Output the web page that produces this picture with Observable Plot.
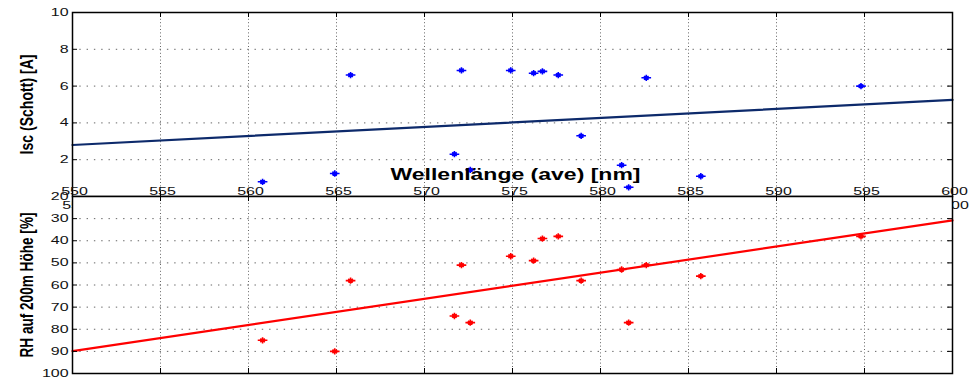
<!DOCTYPE html>
<html><head><meta charset="utf-8">
<script src="https://cdn.jsdelivr.net/npm/d3@7"></script>
<script src="https://cdn.jsdelivr.net/npm/@observablehq/plot@0.6"></script>
<style>
html,body{margin:0;padding:0;background:#fff;}
#chart{position:relative;width:971px;height:380px;overflow:hidden;background:#fff;}
#chart svg{position:absolute;left:0;}
</style></head><body><div id="chart"></div>
<script>
// ---- data ----
const wavelength = [560.8, 564.9, 565.8, 571.7, 572.1, 572.6, 574.9, 576.2, 576.7, 577.6, 578.9, 581.2, 581.6, 582.6, 585.7, 594.8];
const isc = [0.8, 1.25, 6.6, 2.3, 6.85, 1.45, 6.85, 6.7, 6.8, 6.6, 3.3, 1.7, 0.5, 6.45, 1.1, 6.0];
const rh = [85, 90, 58, 74, 51, 77, 47, 49, 39, 38, 58, 53, 77, 51, 56, 38];
const fitX = [550, 600];
const iscFit = [2.8, 5.25];
const rhFit = [89.9, 30.8];
const xTicks = [550, 555, 560, 565, 570, 575, 580, 585, 590, 595, 600];
const xGrid = [555, 560, 565, 570, 575, 580, 585, 590, 595];
const iscTicks = [0, 2, 4, 6, 8, 10];
const iscLabels = [2, 4, 6, 8, 10];
const iscGrid = [2, 4, 6, 8];
const rhTicks = [20, 30, 40, 50, 60, 70, 80, 90, 100];
const rhGrid = [30, 40, 50, 60, 70, 80, 90];
const hiddenTicks = [550, 600];
const xLabel = "Wellenlänge (ave) [nm]";
const iscLabel = "Isc (Schott) [A]";
const rhLabel = "RH auf 200m Höhe [%]";

const W = 971, ML = 72, MR = 19;
const FONT = "Liberation Sans, Arial, Helvetica, sans-serif";
const TL = 5; // tick length px

const star = {
  draw(ctx, size) {
    const r = Math.sqrt(size / Math.PI);
    const a = 1.15 * r, b = 0.75 * r, c = 0.55 * r, d = 0.42 * r;
    ctx.moveTo(-a, 0); ctx.lineTo(a, 0);
    ctx.moveTo(0, -b); ctx.lineTo(0, b);
    ctx.moveTo(-c, -d); ctx.lineTo(c, d);
    ctx.moveTo(-c, d); ctx.lineTo(c, -d);
  }
};

const pts = wavelength.map((w, i) => ({w, isc: isc[i], rh: rh[i]}));
const fit = fitX.map((x, i) => ({x, isc: iscFit[i], rh: rhFit[i]}));

function tickMarks(xt, yt, innerH, innerW) {
  return [
    Plot.ruleX(xt, {x: d => d, insetTop: innerH - TL, stroke: "black", strokeWidth: 1}),
    Plot.ruleX(xt, {x: d => d, insetBottom: innerH - TL, stroke: "black", strokeWidth: 1}),
    Plot.ruleY(yt, {y: d => d, insetRight: innerW - TL, stroke: "black", strokeWidth: 1}),
    Plot.ruleY(yt, {y: d => d, insetLeft: innerW - TL, stroke: "black", strokeWidth: 1})
  ];
}

// ---- top plot ----
const topH = 200, topMT = 12, topMB = 4;
const topInnerH = topH - topMT - topMB, innerW = W - ML - MR;
const topPlot = Plot.plot({
  width: W, height: topH, marginLeft: ML, marginRight: MR, marginTop: topMT, marginBottom: topMB,
  style: {fontFamily: FONT, background: "transparent", overflow: "visible"},
  x: {domain: [550, 600], axis: null},
  y: {domain: [0, 10], axis: null},
  marks: [
    Plot.ruleX(xGrid, {x: d => d, stroke: "#666", strokeWidth: 1, strokeDasharray: "1,2.4"}),
    Plot.ruleY(iscGrid, {y: d => d, stroke: "#666", strokeWidth: 1, strokeDasharray: "1.4,5.9"}),
    Plot.line(fit, {x: "x", y: "isc", stroke: "#0d2a6b", strokeWidth: 2.2}),
    Plot.dot(pts, {x: "w", y: "isc", symbol: star, r: 4.2, stroke: "#0000ff", fill: "none", strokeWidth: 1.6}),
    Plot.text([xLabel], {frameAnchor: "bottom", text: d => d, dx: 3, dy: -17, textAnchor: "middle", lineAnchor: "bottom", fontWeight: "bold", fontSize: 16.5, fill: "black"}),
    Plot.frame({stroke: "black", strokeWidth: 1.5}),
    ...tickMarks(xTicks, iscTicks, topInnerH, innerW),
    Plot.text(xTicks, {x: d => d, y: () => 0, text: d => String(d), dx: 2, dy: -2, lineAnchor: "bottom", fontSize: 11, fill: "#111"}),
    Plot.text(iscLabels, {x: () => 550, y: d => d, text: d => String(d), dx: -4, textAnchor: "end", lineAnchor: "middle", fontSize: 11, fill: "#111"}),
    Plot.text([iscLabel], {frameAnchor: "left", text: d => d, rotate: -90, dx: -45, textAnchor: "middle", lineAnchor: "middle", fontWeight: "bold", fontSize: 18, fill: "black"})
  ]
});

// ---- bottom plot ----
const botH = 190, botMT = 6, botMB = 7;
const botInnerH = botH - botMT - botMB;
const bottomPlot = Plot.plot({
  width: W, height: botH, marginLeft: ML, marginRight: MR, marginTop: botMT, marginBottom: botMB,
  style: {fontFamily: FONT, background: "transparent", overflow: "visible"},
  x: {domain: [550, 600], axis: null},
  y: {domain: [20, 100], reverse: true, axis: null},
  marks: [
    Plot.text(hiddenTicks, {x: d => d, y: () => 20, text: d => String(d), dx: 3, dy: 5, lineAnchor: "top", fontSize: 11, fill: "#111"}),
    Plot.frame({fill: "white"}),
    Plot.ruleX(xGrid, {x: d => d, stroke: "#666", strokeWidth: 1, strokeDasharray: "1,2.4"}),
    Plot.ruleY(rhGrid, {y: d => d, stroke: "#666", strokeWidth: 1, strokeDasharray: "1.4,5.9"}),
    Plot.line(fit, {x: "x", y: "rh", stroke: "#ff0000", strokeWidth: 2.2}),
    Plot.dot(pts, {x: "w", y: "rh", symbol: star, r: 4.2, stroke: "#ff0000", fill: "none", strokeWidth: 1.6}),
    Plot.frame({stroke: "black", strokeWidth: 1.5}),
    ...tickMarks(xTicks, rhTicks, botInnerH, innerW),
    Plot.text(rhTicks, {x: () => 550, y: d => d, text: d => String(d), dx: -4, textAnchor: "end", lineAnchor: "middle", fontSize: 11, fill: "#111"}),
    Plot.text([rhLabel], {frameAnchor: "left", text: d => d, rotate: -90, dx: -45, textAnchor: "middle", lineAnchor: "middle", fontWeight: "bold", fontSize: 18, fill: "black"})
  ]
});

const chart = document.getElementById("chart");
topPlot.style.top = "0px";
bottomPlot.style.top = (topMT + topInnerH - botMT) + "px";
chart.appendChild(topPlot);
chart.appendChild(bottomPlot);

// stretch texts to the reference's (non-uniformly scaled) proportions
const fixedLengths = {[xLabel]: 250, [iscLabel]: 100, [rhLabel]: 145};
document.querySelectorAll("#chart svg text").forEach(t => {
  const s = t.textContent.trim();
  let len = null;
  if (s in fixedLengths) len = fixedLengths[s];
  else if (/^\d+$/.test(s)) len = t.getComputedTextLength() * 1.45;
  if (len != null) {
    t.setAttribute("textLength", len);
    t.setAttribute("lengthAdjust", "spacingAndGlyphs");
  }
});
</script></body></html>
